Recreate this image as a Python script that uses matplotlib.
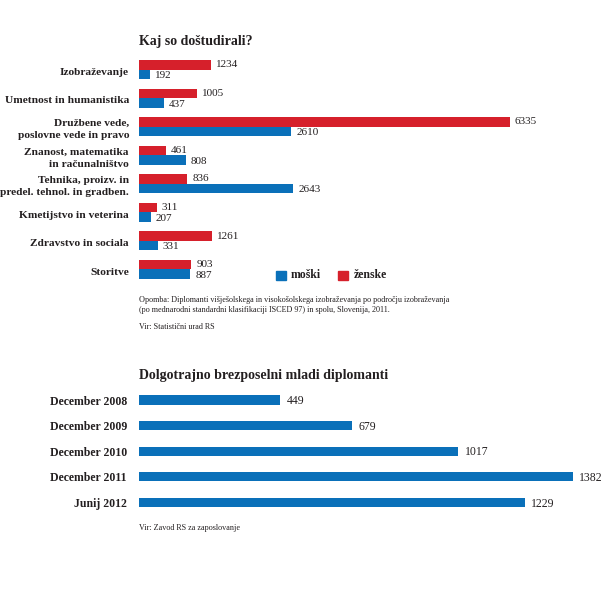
import matplotlib
matplotlib.use("Agg")
import matplotlib.pyplot as plt
import numpy as np

# data: what they graduated in (2011)
categories = ["Izobraževanje", "Umetnost in humanistika",
              "Družbene vede,\nposlovne vede in pravo",
              "Znanost, matematika\nin računalništvo",
              "Tehnika, proizv. in\npredel. tehnol. in gradben.",
              "Kmetijstvo in veterina", "Zdravstvo in sociala", "Storitve"]
zenske = [1234, 1005, 6335, 461, 836, 311, 1261, 903]
moski = [192, 437, 2610, 808, 2643, 207, 331, 887]

# data: long-term unemployed young graduates
periods = ["December 2008", "December 2009", "December 2010",
           "December 2011", "Junij 2012"]
unemployed = [449, 679, 1017, 1382, 1229]

RED = "#d6202b"
BLUE = "#0a70b9"
TXT = "#231f20"
FONT = "Liberation Serif"

W = H = 610
fig = plt.figure(figsize=(6.1, 6.1), dpi=100)
fig.patch.set_facecolor("white")


def px_axes(left, top, right, bottom):
    # axes placed by pixel box (origin top-left)
    return fig.add_axes([left / W, 1 - bottom / H, (right - left) / W, (bottom - top) / H])


def clean(ax):
    for s in ax.spines.values():
        s.set_visible(False)
    ax.set_xticks([])
    ax.set_yticks([])


# ---- top chart ----
x0, scale1 = 138.5, 0.0586      # px origin, px per unit
row = 28.57
ax1 = px_axes(x0, 69.5 - row / 2, W, 269.5 + row / 2)
ax1.set_xlim(0, (W - x0) / scale1)
ax1.set_ylim(len(categories) - 0.5, -0.5)
y = np.arange(len(categories))
bh = 0.335
ax1.barh(y - bh / 2, zenske, height=bh, color=RED)
ax1.barh(y + bh / 2, moski, height=bh, color=BLUE)
clean(ax1)
lab_x = -9.5 / (W - x0)
for i, c in enumerate(categories):
    ax1.text(lab_x, y[i] + 0.1, c, transform=ax1.get_yaxis_transform(), ha="right",
             va="center", fontsize=8.2, fontweight="bold", family=FONT,
             color=TXT, linespacing=1.45)
off = 5 / scale1
for i in range(len(categories)):
    ax1.text(zenske[i] + off, y[i] - bh / 2, str(zenske[i]), va="center",
             fontsize=8, family=FONT, color=TXT)
    ax1.text(moski[i] + off, y[i] + bh / 2 + 0.04, str(moski[i]), va="center",
             fontsize=8, family=FONT, color=TXT)

fig.text(139 / W, 1 - 42 / H, "Kaj so doštudirali?", fontsize=10, family=FONT,
         fontweight="bold", color=TXT, va="center")

# legend
for sx, col, lab in [(276, BLUE, "moški"), (338.3, RED, "ženske")]:
    fig.patches.append(plt.Rectangle((sx / W, 1 - 280 / H), 10 / W, 9 / H,
                                     transform=fig.transFigure, color=col))
    fig.text((sx + 15) / W, 1 - 275 / H, lab, fontsize=8.5, family=FONT,
             fontweight="bold", color=TXT, va="center")

fig.text(139 / W, 1 - 300 / H,
         "Opomba: Diplomanti višješolskega in visokošolskega izobraževanja po področju izobraževanja",
         fontsize=5.9, family=FONT, color=TXT, va="center")
fig.text(139 / W, 1 - 309.5 / H,
         "(po mednarodni standardni klasifikaciji ISCED 97) in spolu, Slovenija, 2011.",
         fontsize=5.9, family=FONT, color=TXT, va="center")
fig.text(139 / W, 1 - 327 / H, "Vir: Statistični urad RS",
         fontsize=5.9, family=FONT, color=TXT, va="center")

# ---- bottom chart ----
x0b, scale2 = 139, 0.3137
row2 = 25.6
ax2 = px_axes(x0b, 400 - row2 / 2, W, 502.3 + row2 / 2)
ax2.set_xlim(0, (W - x0b) / scale2)
ax2.set_ylim(len(periods) - 0.5, -0.5)
y2 = np.arange(len(periods))
ax2.barh(y2, unemployed, height=0.36, color=BLUE)
clean(ax2)
for i, p in enumerate(periods):
    ax2.text(-12 / (W - x0b), y2[i] + 0.06, p, transform=ax2.get_yaxis_transform(),
             ha="right", va="center", fontsize=8.5, fontweight="bold",
             family=FONT, color=TXT)
for i, v in enumerate(unemployed):
    ax2.text(v + 6.5 / scale2, y2[i] + 0.05, str(v), va="center",
             fontsize=8.5, family=FONT, color=TXT)

fig.text(139 / W, 1 - 375 / H, "Dolgotrajno brezposelni mladi diplomanti",
         fontsize=10, family=FONT, fontweight="bold", color=TXT, va="center")
fig.text(139 / W, 1 - 528 / H, "Vir: Zavod RS za zaposlovanje",
         fontsize=5.9, family=FONT, color=TXT, va="center")

fig.savefig("out.png", dpi=100, facecolor="white")
